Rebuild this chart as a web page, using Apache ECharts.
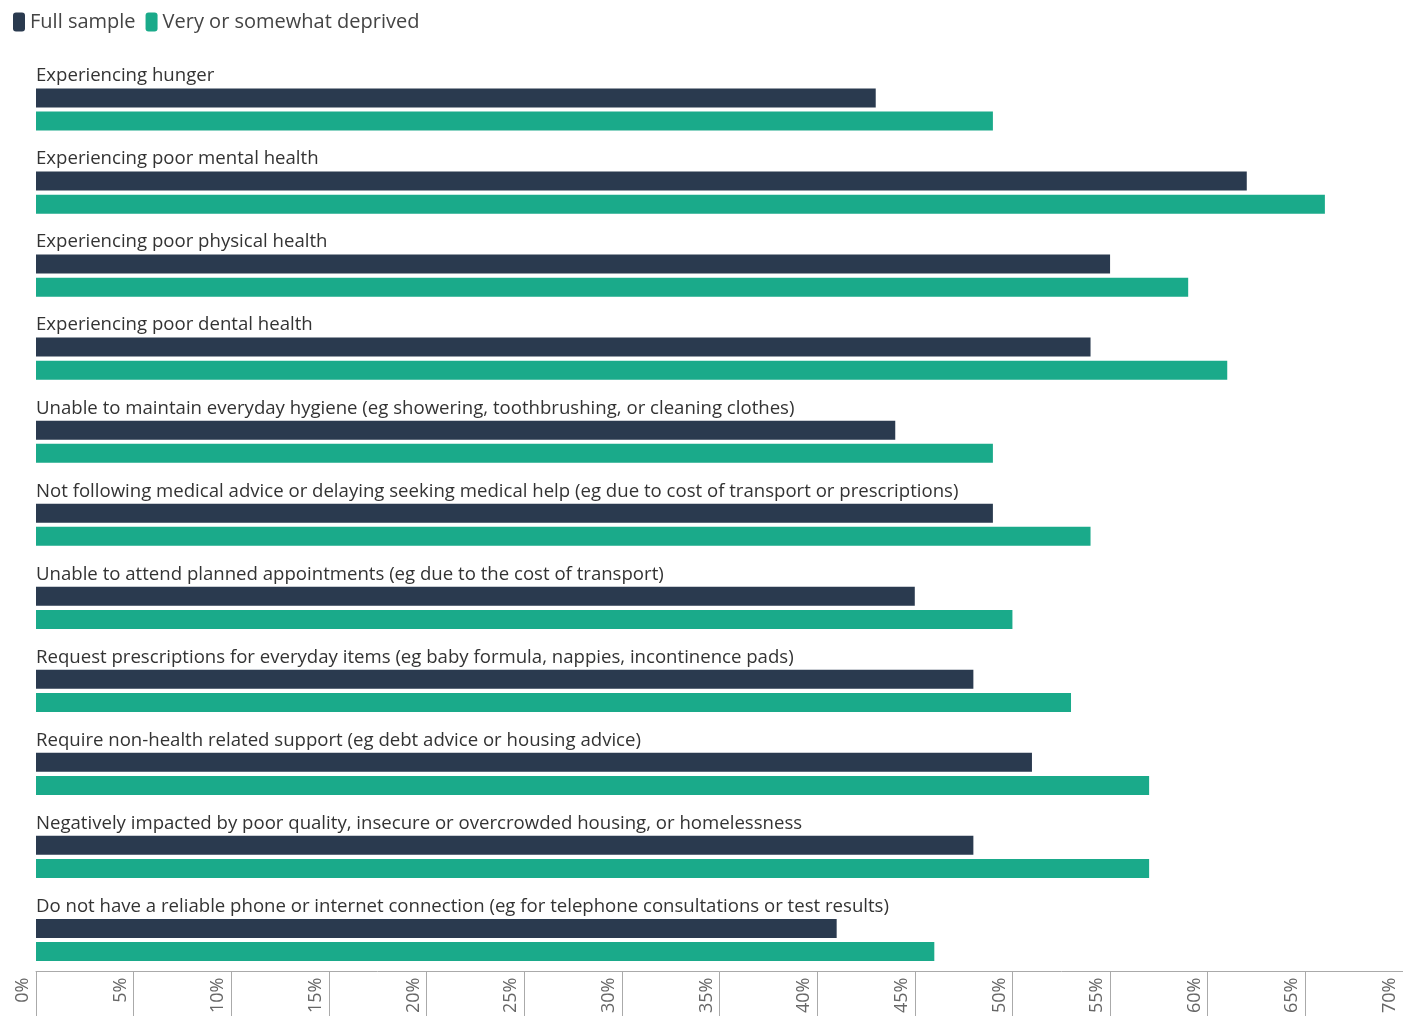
<!DOCTYPE html>
<html>
<head>
<meta charset="utf-8">
<style>
html,body{margin:0;padding:0;background:#fff;}
#chart{width:1403px;height:1016px;}
</style>
<script src="https://cdn.jsdelivr.net/npm/echarts@6/dist/echarts.min.js"></script>
</head>
<body>
<div id="chart"></div>
<script>
const categories = [
  "Experiencing hunger",
  "Experiencing poor mental health",
  "Experiencing poor physical health",
  "Experiencing poor dental health",
  "Unable to maintain everyday hygiene (eg showering, toothbrushing, or cleaning clothes)",
  "Not following medical advice or delaying seeking medical help (eg due to cost of transport or prescriptions)",
  "Unable to attend planned appointments (eg due to the cost of transport)",
  "Request prescriptions for everyday items (eg baby formula, nappies, incontinence pads)",
  "Require non-health related support (eg debt advice or housing advice)",
  "Negatively impacted by poor quality, insecure or overcrowded housing, or homelessness",
  "Do not have a reliable phone or internet connection (eg for telephone consultations or test results)"
];
const fullSample = [43, 62, 55, 54, 44, 49, 45, 48, 51, 48, 41];
const deprived   = [49, 66, 59, 61, 49, 54, 50, 53, 57, 57, 46];
const seriesNames = ["Full sample", "Very or somewhat deprived"];

const FONT = '"Open Sans", Lato, sans-serif';
const chart = echarts.init(document.getElementById('chart'), null, {renderer: 'canvas'});
chart.setOption({
  animation: false,
  backgroundColor: '#ffffff',
  legend: {
    left: 8, top: 7,
    icon: 'roundRect',
    itemWidth: 12, itemHeight: 19, itemGap: 10,
    textStyle: {fontFamily: FONT, fontSize: 20, color: '#444'},
    data: seriesNames
  },
  grid: {left: 36, right: -8, top: 68, bottom: 34, containLabel: false},
  xAxis: {
    type: 'value', min: 0, max: 70, interval: 5,
    offset: -10,
    axisLine: {show: true, lineStyle: {color: '#aaa', width: 1}},
    axisTick: {show: true, length: 50, lineStyle: {color: '#aaa'}},
    splitLine: {show: false},
    axisLabel: {
      rotate: 90, margin: 6, verticalAlign: 'bottom', padding: [0,0,4,0],
      formatter: '{value}%', fontFamily: FONT, fontSize: 18, color: '#666'
    }
  },
  yAxis: {
    type: 'category', inverse: true, data: categories,
    axisLine: {show: false}, axisTick: {show: false}, splitLine: {show: false},
    axisLabel: {
      inside: true, interval: 0, margin: 0, align: 'left', verticalAlign: 'bottom',
      padding: [0,0,24,0],
      fontFamily: FONT, fontSize: 18.6, color: '#333'
    }
  },
  series: [
    {name: seriesNames[0], type: 'bar', data: fullSample, barWidth: 19, barGap: '22%',
     itemStyle: {color: '#2a3a4f'}},
    {name: seriesNames[1], type: 'bar', data: deprived, barWidth: 19,
     itemStyle: {color: '#1aaa8a'}}
  ]
});
</script>
</body>
</html>
